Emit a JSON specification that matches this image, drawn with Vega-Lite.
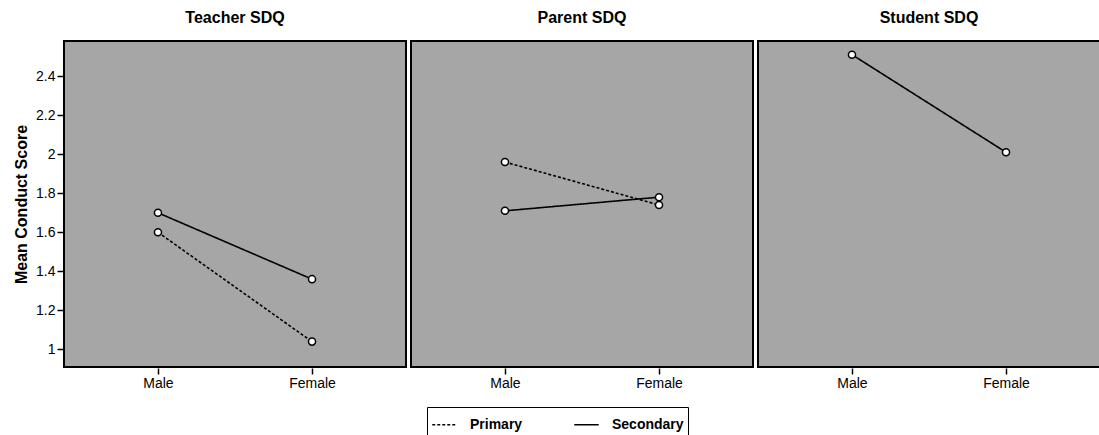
{
  "$schema": "https://vega.github.io/schema/vega-lite/v6.json",
  "background": "white",
  "padding": {"left": 13, "top": 10, "right": 0, "bottom": 0},
  "data": {
    "values": [
      {"source": "Teacher SDQ", "school": "Primary", "sex": "Male", "score": 1.60},
      {"source": "Teacher SDQ", "school": "Primary", "sex": "Female", "score": 1.04},
      {"source": "Teacher SDQ", "school": "Secondary", "sex": "Male", "score": 1.70},
      {"source": "Teacher SDQ", "school": "Secondary", "sex": "Female", "score": 1.36},
      {"source": "Parent SDQ", "school": "Primary", "sex": "Male", "score": 1.96},
      {"source": "Parent SDQ", "school": "Primary", "sex": "Female", "score": 1.74},
      {"source": "Parent SDQ", "school": "Secondary", "sex": "Male", "score": 1.71},
      {"source": "Parent SDQ", "school": "Secondary", "sex": "Female", "score": 1.78},
      {"source": "Student SDQ", "school": "Secondary", "sex": "Male", "score": 2.51},
      {"source": "Student SDQ", "school": "Secondary", "sex": "Female", "score": 2.01}
    ]
  },
  "facet": {
    "column": {
      "field": "source",
      "type": "nominal",
      "sort": ["Teacher SDQ", "Parent SDQ", "Student SDQ"],
      "title": null,
      "header": {
        "labelFont": "Liberation Sans",
        "labelFontSize": 16,
        "labelFontWeight": "bold",
        "labelColor": "black",
        "labelPadding": 14
      }
    }
  },
  "spacing": 3,
  "spec": {
    "width": 342,
    "height": 326,
    "encoding": {
      "x": {
        "field": "sex",
        "type": "nominal",
        "sort": ["Male", "Female"],
        "scale": {"type": "point", "padding": 0.61},
        "axis": {
          "title": null,
          "labelAngle": 0,
          "labelFont": "Liberation Sans",
          "labelFontSize": 14,
          "labelColor": "black",
          "domain": false,
          "tickColor": "black",
          "tickSize": 6,
          "tickWidth": 1.5,
          "labelPadding": 2
        }
      },
      "y": {
        "field": "score",
        "type": "quantitative",
        "scale": {"domain": [0.91, 2.58], "nice": false, "zero": false},
        "axis": {
          "title": "Mean Conduct Score",
          "titleFont": "Liberation Sans",
          "titleFontSize": 16,
          "titleFontWeight": "bold",
          "titleColor": "black",
          "titlePadding": 6,
          "values": [1, 1.2, 1.4, 1.6, 1.8, 2, 2.2, 2.4],
          "format": "~g",
          "labelFont": "Liberation Sans",
          "labelFontSize": 14,
          "labelColor": "black",
          "grid": false,
          "domain": false,
          "tickColor": "black",
          "tickSize": 6,
          "tickWidth": 1.5
        }
      }
    },
    "layer": [
      {
        "mark": {"type": "line", "color": "black", "strokeWidth": 1.6},
        "encoding": {
          "strokeDash": {
            "field": "school",
            "type": "nominal",
            "scale": {"domain": ["Primary", "Secondary"], "range": [[3, 2], [1, 0]]},
            "legend": {
              "title": null,
              "orient": "bottom",
              "direction": "horizontal",
              "strokeColor": "black",
              "padding": 4,
              "symbolType": "stroke",
              "symbolStrokeColor": "black",
              "symbolStrokeWidth": 1.6,
              "symbolSize": 600,
              "labelFont": "Liberation Sans",
              "labelFontSize": 14,
              "labelFontWeight": "bold",
              "labelColor": "black",
              "labelOffset": 12,
              "columnPadding": 48,
              "offset": 17
            }
          }
        }
      },
      {
        "mark": {"type": "point", "shape": "circle", "filled": true, "fill": "white", "stroke": "black", "strokeWidth": 1.5, "size": 50, "opacity": 1}
      }
    ]
  },
  "config": {
    "view": {"fill": "#a6a6a6", "stroke": "black", "strokeWidth": 2},
    "legend": {"layout": {"bottom": {"anchor": "middle"}}}
  }
}
